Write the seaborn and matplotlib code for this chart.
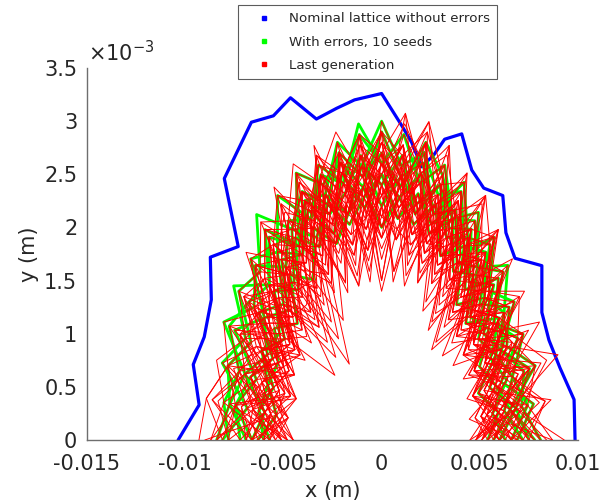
import numpy as np
import pandas as pd
import matplotlib
matplotlib.use("Agg")
import matplotlib.pyplot as plt
import seaborn as sns
from matplotlib.lines import Line2D

# ---------------- data (mm) ----------------
nominal_x = [-10.36, -9.29, -9.59, -9.03, -8.67, -8.72, -7.30, -8.01, -6.63, -5.51,
             -4.64, -3.32, -2.30, -1.38, 0.00, 1.02, 1.53, 2.04, 2.65, 3.21,
             4.08, 4.59, 5.20, 6.17, 6.33, 6.79, 8.16, 8.16, 8.52, 9.08, 9.80, 9.85]
nominal_y = [0.00, 0.33, 0.71, 0.97, 1.32, 1.72, 1.82, 2.46, 2.99, 3.05,
             3.22, 3.02, 3.12, 3.20, 3.26, 2.96, 2.80, 2.57, 2.68, 2.83,
             2.88, 2.54, 2.37, 2.30, 1.95, 1.71, 1.64, 1.20, 0.94, 0.68, 0.38, 0.00]

# scan directions (degrees, normalised phase space) and horizontal stretch of the scan
scan_angles_deg = [0, 7.5, 15, 22.5, 30, 37.5, 45, 52.5, 60, 67.5, 75, 82.5, 90,
                   97.5, 105, 112.5, 120, 127.5, 135, 142.5, 150, 157.5, 165, 172.5, 180]
X_STRETCH = 3.0

# aperture radii along each direction, with errors (10 seeds)
seed_radii = [
    [2.3, 2.6, 2.1, 2.5, 2.2, 2.6, 2.3, 2.7, 2.4, 2.8, 2.5, 2.9, 2.6, 3.0, 2.5, 2.8, 2.4, 2.9, 2.5, 2.8, 2.3, 2.7, 2.2, 2.5, 2.4],
    [2.6, 2.2, 2.7, 2.3, 2.5, 2.1, 2.6, 2.4, 2.8, 2.3, 2.7, 2.5, 2.9, 2.4, 2.7, 2.6, 2.9, 2.3, 2.8, 2.4, 2.9, 2.5, 2.8, 2.3, 2.7],
    [2.0, 2.3, 1.9, 2.2, 2.0, 2.4, 2.1, 2.5, 2.3, 2.6, 2.2, 2.7, 2.4, 2.6, 2.2, 2.5, 2.1, 2.4, 2.0, 2.3, 1.9, 2.2, 2.0, 2.1, 1.9],
    [2.4, 2.1, 2.3, 2.6, 2.2, 2.5, 2.0, 2.4, 2.2, 2.6, 2.3, 2.5, 2.2, 2.7, 2.4, 2.3, 2.6, 2.2, 2.5, 2.1, 2.4, 2.0, 2.3, 2.5, 2.2],
    [1.9, 2.2, 2.0, 1.8, 2.1, 1.9, 2.3, 2.1, 2.5, 2.2, 2.4, 2.1, 2.5, 2.3, 2.1, 2.4, 2.2, 2.5, 2.1, 2.3, 2.0, 2.2, 1.9, 2.1, 2.0],
    [2.5, 2.3, 2.6, 2.2, 2.4, 2.7, 2.3, 2.6, 2.4, 2.7, 2.9, 2.4, 2.7, 2.5, 2.8, 2.4, 2.7, 2.5, 3.0, 2.6, 2.8, 2.4, 2.7, 2.6, 2.8],
    [2.1, 1.9, 2.2, 2.0, 2.3, 1.8, 2.2, 2.0, 2.4, 2.1, 2.6, 2.3, 2.5, 2.2, 2.6, 2.1, 2.5, 2.2, 2.4, 2.0, 2.3, 2.1, 2.4, 2.0, 2.2],
    [2.2, 2.5, 2.3, 2.1, 2.4, 2.2, 2.5, 2.3, 2.7, 2.5, 2.8, 2.4, 2.6, 2.9, 2.5, 2.7, 2.4, 2.6, 2.3, 2.7, 2.5, 2.9, 2.4, 2.6, 2.3],
    [1.8, 2.0, 1.7, 2.1, 1.9, 2.2, 1.8, 2.3, 2.0, 2.4, 2.1, 2.3, 2.0, 2.4, 2.2, 2.0, 2.3, 1.9, 2.2, 1.8, 2.1, 1.9, 2.0, 1.8, 2.1],
    [2.7, 2.4, 2.5, 2.2, 2.6, 2.3, 2.7, 2.2, 2.5, 2.3, 2.8, 2.6, 3.0, 2.6, 2.9, 2.5, 2.6, 2.3, 2.7, 2.4, 2.6, 2.8, 2.5, 2.7, 2.6],
]

# aperture radii of the last generation
last_gen_radii = [
    [1.9, 2.2, 1.7, 2.1, 1.8, 2.3, 2.0, 2.5, 2.2, 2.7, 2.3, 2.8, 2.4, 2.6, 2.2, 2.7, 2.1, 2.5, 2.0, 2.4, 1.9, 2.2, 1.7, 2.0, 1.8],
    [2.1, 1.7, 2.0, 1.6, 2.2, 1.9, 2.4, 2.1, 2.6, 2.0, 2.5, 2.2, 2.8, 2.3, 2.6, 2.1, 2.7, 2.2, 2.4, 1.9, 2.3, 1.8, 2.1, 1.6, 2.0],
    [2.4, 2.0, 2.6, 1.9, 2.3, 2.1, 2.5, 1.9, 2.4, 2.2, 2.9, 2.1, 2.6, 2.0, 2.5, 2.3, 2.8, 2.0, 2.6, 2.2, 2.5, 1.9, 2.3, 2.0, 2.2],
    [1.7, 2.0, 1.8, 2.2, 1.6, 2.0, 1.8, 2.3, 1.9, 2.4, 2.0, 2.5, 2.1, 2.7, 2.0, 2.4, 1.8, 2.2, 1.7, 2.1, 1.6, 1.9, 1.7, 1.8, 1.6],
    [2.6, 2.2, 3.1, 2.3, 2.4, 2.0, 2.5, 2.1, 2.7, 2.4, 3.1, 2.5, 2.8, 2.3, 2.9, 2.4, 2.7, 2.2, 2.8, 2.5, 2.6, 2.1, 2.4, 2.2, 2.3],
    [1.8, 2.1, 1.6, 1.9, 2.2, 1.7, 2.0, 1.4, 2.3, 1.9, 2.6, 2.0, 2.4, 1.8, 2.3, 1.6, 2.2, 1.9, 1.1, 2.1, 1.8, 2.2, 1.9, 2.1, 1.7],
    [2.2, 1.9, 2.4, 2.0, 2.6, 2.2, 2.8, 2.3, 2.5, 2.1, 2.7, 3.0, 2.5, 2.2, 2.6, 2.9, 2.3, 2.6, 2.2, 2.5, 2.1, 2.4, 2.0, 2.3, 2.1],
    [1.6, 1.9, 2.1, 1.7, 2.0, 1.8, 2.2, 1.6, 2.1, 1.8, 2.3, 1.9, 2.2, 1.7, 2.5, 2.0, 2.3, 1.8, 2.1, 1.6, 1.9, 2.2, 1.8, 1.7, 1.9],
    [2.3, 2.6, 2.2, 2.5, 2.1, 2.6, 2.4, 2.8, 2.5, 2.9, 2.6, 3.1, 2.7, 2.9, 2.6, 2.8, 2.5, 2.9, 2.6, 2.8, 2.4, 2.9, 2.7, 3.0, 3.1],
    [2.0, 1.6, 1.9, 2.3, 1.8, 2.1, 1.7, 2.4, 2.0, 2.2, 1.9, 2.6, 2.1, 2.4, 1.8, 2.5, 2.0, 2.3, 1.5, 2.2, 1.9, 1.6, 2.0, 1.8, 1.9],
    [1.8, 2.0, 1.7, 2.1, 1.9, 1.5, 2.2, 2.0, 2.4, 2.1, 2.5, 2.2, 2.7, 2.4, 2.2, 2.6, 2.3, 2.1, 2.4, 1.0, 2.0, 1.7, 1.9, 2.2, 1.8],
    [2.5, 2.1, 2.3, 2.0, 2.5, 2.2, 2.6, 2.3, 2.9, 2.4, 2.6, 2.2, 2.8, 2.5, 2.7, 2.3, 2.9, 2.4, 2.6, 2.3, 2.7, 2.2, 2.5, 2.0, 2.4],
    [1.7, 2.2, 1.9, 1.7, 2.1, 1.8, 2.4, 2.2, 2.0, 2.6, 2.2, 2.4, 2.0, 2.6, 2.3, 2.1, 2.5, 2.2, 2.0, 2.3, 1.8, 2.0, 2.3, 1.9, 1.6],
    [2.8, 2.3, 2.6, 2.1, 2.4, 1.9, 2.2, 2.6, 2.3, 2.8, 2.5, 2.7, 2.3, 2.9, 2.6, 2.4, 2.8, 2.5, 2.7, 2.3, 2.5, 2.0, 2.6, 2.3, 2.8],
    [1.9, 1.7, 2.0, 1.8, 1.6, 2.1, 1.3, 2.2, 1.9, 2.5, 2.1, 2.3, 1.9, 2.4, 2.1, 2.6, 1.9, 2.3, 2.0, 2.4, 1.7, 2.1, 1.8, 2.0, 1.7],
    [2.2, 2.5, 2.0, 2.3, 1.9, 2.4, 2.1, 2.7, 2.4, 2.6, 2.3, 2.8, 2.5, 2.7, 2.4, 2.7, 2.2, 2.6, 2.4, 2.7, 2.2, 2.6, 2.4, 2.8, 2.6],
    [2.0, 1.8, 2.2, 1.7, 2.3, 2.0, 2.5, 2.2, 2.7, 2.3, 2.6, 2.1, 2.5, 2.2, 2.8, 2.1, 2.4, 2.0, 2.3, 1.8, 2.2, 1.7, 2.1, 1.9, 2.2],
    [1.6, 2.0, 1.8, 2.3, 2.0, 2.2, 1.8, 2.0, 2.3, 2.1, 2.4, 1.9, 2.3, 2.1, 2.0, 2.5, 2.2, 1.2, 2.1, 2.3, 1.9, 2.1, 1.8, 2.0, 1.5],
    [2.4, 2.8, 2.3, 2.6, 2.2, 2.5, 2.2, 2.4, 2.1, 2.6, 2.9, 2.4, 2.7, 2.3, 2.5, 2.2, 2.6, 2.3, 2.5, 2.1, 2.4, 2.6, 2.2, 2.5, 2.7],
    [1.8, 1.6, 1.9, 2.1, 1.8, 2.0, 2.2, 1.9, 2.1, 2.0, 2.3, 2.1, 2.4, 2.0, 2.2, 2.4, 2.1, 2.3, 1.9, 2.2, 2.0, 1.8, 2.1, 1.9, 2.0],
    [2.1, 2.4, 2.0, 2.2, 1.7, 2.2, 2.4, 2.1, 2.5, 2.3, 2.7, 2.5, 2.9, 2.6, 2.4, 2.7, 2.3, 2.5, 2.1, 2.4, 2.2, 2.0, 2.3, 2.1, 2.3],
    [1.5, 1.8, 1.6, 2.0, 1.7, 1.9, 1.6, 2.1, 1.8, 2.2, 2.0, 2.3, 1.9, 2.2, 1.8, 2.1, 1.7, 2.0, 1.8, 1.9, 1.6, 1.8, 1.5, 1.7, 1.5],
    [2.7, 2.4, 2.9, 2.5, 2.7, 2.3, 2.6, 2.4, 2.8, 2.6, 3.0, 2.7, 2.9, 2.5, 2.8, 2.6, 3.0, 2.6, 2.9, 2.6, 2.8, 2.5, 2.9, 2.7, 2.9],
    [2.0, 2.3, 1.9, 2.2, 2.0, 1.7, 2.1, 2.3, 2.6, 2.2, 2.5, 2.3, 2.6, 2.1, 2.6, 2.3, 2.5, 2.1, 2.4, 2.0, 1.8, 2.2, 2.0, 1.8, 2.1],
    [1.9, 2.1, 2.4, 1.9, 2.1, 2.3, 1.9, 2.5, 2.2, 2.4, 2.0, 2.7, 2.2, 2.5, 2.3, 2.6, 2.0, 2.4, 2.2, 2.0, 2.3, 1.9, 2.1, 2.2, 1.9],
    [2.3, 1.9, 2.1, 2.4, 2.2, 2.5, 2.0, 2.3, 2.6, 2.2, 2.9, 2.4, 2.6, 2.3, 2.7, 2.2, 2.6, 2.4, 2.2, 2.6, 2.3, 2.5, 2.1, 2.4, 2.2],
    [1.7, 1.9, 1.6, 2.0, 1.8, 2.0, 1.7, 2.2, 1.9, 2.1, 1.8, 2.4, 2.0, 2.3, 1.9, 2.2, 1.7, 0.9, 2.0, 1.8, 2.1, 1.7, 1.9, 1.6, 1.8],
    [2.5, 2.2, 2.7, 2.4, 2.2, 2.6, 2.3, 2.1, 2.5, 2.3, 2.7, 2.4, 2.6, 2.8, 2.5, 2.9, 2.4, 2.7, 2.5, 2.3, 2.6, 2.4, 2.7, 2.5, 2.6],
    [2.0, 1.7, 2.1, 1.9, 2.2, 1.8, 2.1, 1.9, 2.4, 2.0, 2.2, 2.5, 2.3, 2.0, 2.4, 2.2, 2.6, 2.1, 2.3, 2.1, 1.8, 2.0, 2.2, 1.9, 2.0],
    [2.9, 2.5, 2.7, 2.3, 2.5, 2.2, 2.7, 2.5, 2.3, 2.7, 3.1, 2.6, 2.8, 2.4, 2.6, 2.3, 2.7, 2.5, 2.8, 2.5, 2.7, 2.3, 2.5, 2.6, 2.8],
    [1.6, 1.8, 2.0, 1.7, 1.9, 1.6, 2.0, 1.8, 2.2, 1.9, 2.3, 2.0, 2.1, 1.8, 2.3, 2.0, 2.2, 1.9, 2.0, 1.7, 2.0, 1.8, 1.6, 1.9, 1.7],
    [2.2, 2.0, 2.5, 2.1, 2.3, 2.0, 2.4, 2.2, 2.0, 2.5, 2.3, 2.6, 2.3, 2.8, 2.4, 2.2, 2.5, 2.3, 2.6, 2.2, 2.4, 2.1, 2.3, 2.0, 2.2],
    [2.9, 1.8, 2.6, 1.5, 2.4, 1.9, 2.8, 1.7, 2.5, 1.6, 2.9, 1.9, 2.7, 1.5, 2.8, 2.0, 2.6, 1.4, 2.3, 1.7, 2.5, 1.6, 2.7, 1.8, 3.0],
    [1.5, 2.4, 1.7, 2.6, 1.9, 2.7, 1.6, 2.5, 2.0, 3.0, 1.8, 2.6, 1.5, 2.9, 1.9, 2.7, 1.6, 2.8, 1.9, 2.5, 1.5, 2.3, 1.6, 2.6, 1.6],
    [2.2, 2.9, 1.8, 2.3, 1.4, 2.2, 2.7, 1.8, 2.9, 2.1, 1.6, 2.6, 3.0, 1.8, 2.4, 1.5, 2.6, 2.9, 1.7, 2.8, 2.0, 2.7, 1.5, 2.5, 2.9],
    [3.1, 2.3, 2.0, 2.7, 1.6, 2.4, 1.9, 2.9, 1.7, 2.3, 2.8, 1.6, 2.4, 2.8, 1.7, 2.9, 2.0, 2.3, 2.9, 1.5, 2.6, 1.8, 2.4, 2.9, 2.2],
    [1.6, 2.0, 2.7, 1.7, 2.2, 1.3, 2.3, 2.6, 1.5, 2.8, 2.2, 3.1, 1.9, 2.5, 2.8, 1.6, 2.4, 1.9, 2.6, 2.2, 1.7, 2.8, 2.0, 1.7, 2.1],
    [2.4, 1.7, 2.2, 2.9, 2.0, 2.6, 1.5, 2.2, 2.7, 1.9, 2.4, 1.5, 2.9, 2.1, 1.6, 2.6, 2.9, 1.8, 2.2, 2.7, 1.6, 2.3, 2.8, 2.0, 2.6],
    [1.8, 2.5, 1.6, 2.2, 2.6, 1.9, 2.5, 1.3, 2.6, 2.0, 3.0, 2.3, 1.7, 2.7, 2.2, 1.9, 2.7, 2.2, 1.6, 2.4, 1.9, 2.5, 1.7, 2.3, 1.7],
    [2.0, 2.7, 2.3, 1.6, 2.5, 2.1, 1.7, 2.5, 2.2, 1.6, 2.6, 2.9, 2.2, 1.6, 2.9, 2.3, 1.7, 2.6, 2.3, 1.9, 2.7, 1.9, 2.5, 2.2, 2.8],
    [2.6, 2.0, 1.6, 2.4, 1.9, 2.8, 2.1, 2.4, 1.8, 2.7, 2.0, 2.5, 1.5, 2.6, 2.2, 3.0, 1.8, 2.4, 2.8, 1.9, 2.4, 1.6, 2.2, 2.7, 1.9],
    [1.9, 2.3, 2.8, 2.0, 2.7, 1.6, 2.2, 2.9, 2.0, 2.5, 1.7, 2.8, 2.4, 1.9, 2.7, 2.1, 2.4, 1.6, 2.7, 2.3, 2.0, 2.6, 1.9, 2.4, 2.3],
    [2.3, 1.5, 2.1, 1.8, 2.3, 2.0, 1.2, 2.1, 1.7, 2.4, 1.5, 2.2, 1.8, 2.3, 1.5, 2.1, 1.3, 1.9, 1.5, 2.0, 1.7, 1.9, 1.5, 1.8, 1.5],
    [2.7, 2.2, 2.5, 1.9, 2.8, 2.3, 2.6, 2.9, 2.4, 3.0, 2.6, 2.2, 2.9, 2.5, 3.0, 2.7, 2.3, 2.8, 2.4, 2.9, 2.2, 2.8, 2.5, 2.9, 2.4],
    [1.7, 2.1, 1.5, 2.0, 1.6, 2.4, 1.9, 1.5, 2.3, 1.8, 2.1, 1.6, 2.2, 1.9, 1.5, 2.3, 1.8, 2.0, 1.3, 2.1, 1.7, 2.0, 1.6, 2.2, 1.6],
    [2.2, 1.8, 2.6, 2.2, 1.8, 2.3, 2.8, 2.0, 2.4, 1.7, 2.3, 2.7, 2.0, 2.9, 2.3, 1.8, 2.9, 2.2, 2.5, 2.0, 2.8, 2.2, 1.8, 2.5, 2.0],
    [1.6, 2.3, 1.9, 2.5, 2.1, 1.6, 2.4, 1.9, 1.4, 2.3, 1.9, 2.0, 1.4, 2.2, 1.9, 2.5, 2.0, 1.7, 2.3, 1.8, 2.2, 1.9, 2.4, 1.6, 2.2],
    [2.5, 2.8, 2.1, 2.6, 2.3, 2.0, 2.7, 2.3, 2.8, 2.4, 2.1, 2.8, 2.6, 2.2, 2.5, 2.8, 2.3, 3.0, 2.2, 2.7, 2.5, 2.2, 2.7, 3.0, 2.7],
]

x_ticks = [-0.015, -0.01, -0.005, 0, 0.005, 0.01]
x_tick_labels = ["-0.015", "-0.01", "-0.005", "0", "0.005", "0.01"]
y_ticks = [0, 0.5e-3, 1e-3, 1.5e-3, 2e-3, 2.5e-3, 3e-3, 3.5e-3]
y_tick_labels = ["0", "0.5", "1", "1.5", "2", "2.5", "3", "3.5"]
legend_labels = ["Nominal lattice without errors", "With errors, 10 seeds", "Last generation"]


def scan_frame(radii_list):
    ang = np.deg2rad(np.asarray(scan_angles_deg))
    rows = []
    for cid, r in enumerate(radii_list):
        r = np.asarray(r, dtype=float)
        xs = X_STRETCH * r * np.cos(ang) * 1e-3
        ys = r * np.sin(ang) * 1e-3
        for k, (xx, yy) in enumerate(zip(xs, ys)):
            rows.append({"curve": cid, "k": k, "x": xx, "y": yy})
    return pd.DataFrame(rows)


nominal_df = pd.DataFrame({"curve": 0, "x": np.asarray(nominal_x) * 1e-3,
                           "y": np.asarray(nominal_y) * 1e-3})
seed_df = scan_frame(seed_radii)
last_df = scan_frame(last_gen_radii)

# ---------------- plotting ----------------
sns.set_theme(style="white")
plt.rcParams["font.family"] = ["DejaVu Sans"]

fig = plt.figure(figsize=(6.05, 5.03), dpi=100)
ax = fig.add_axes([87 / 605, 1 - 440 / 503, (578 - 87) / 605, (440 - 68) / 503])

sns.lineplot(data=nominal_df, x="x", y="y", units="curve", estimator=None, sort=False,
             color="#0000ff", linewidth=2.3, ax=ax, zorder=2)
sns.lineplot(data=seed_df, x="x", y="y", units="curve", estimator=None, sort=False,
             color="#00ff00", linewidth=2.0, ax=ax, zorder=3)
sns.lineplot(data=last_df, x="x", y="y", units="curve", estimator=None, sort=False,
             color="#ff0000", linewidth=0.7, ax=ax, zorder=4)

ax.set_xlim(-0.015, 0.01)
ax.set_ylim(0, 3.5e-3)
ax.set_xticks(x_ticks)
ax.set_xticklabels(x_tick_labels)
ax.set_yticks(y_ticks)
ax.set_yticklabels(y_tick_labels)

txt_col = "#262626"
spine_col = "#6e6e6e"
ax.tick_params(axis="both", direction="in", length=4, width=0.8, colors=spine_col,
               labelsize=15, labelcolor=txt_col)
ax.tick_params(axis="x", pad=10)
ax.tick_params(axis="y", pad=7)
for s in ["top", "right"]:
    ax.spines[s].set_visible(False)
for s in ["left", "bottom"]:
    ax.spines[s].set_color(spine_col)
    ax.spines[s].set_linewidth(1.0)

ax.set_xlabel("x (m)", fontsize=15, color=txt_col, labelpad=5)
ax.set_ylabel("y (m)", fontsize=15, color=txt_col, labelpad=4)

fig.text(88 / 605, 1 - 61 / 503, r"$\mathregular{\times10^{-3}}$", fontsize=15,
         color=txt_col, ha="left", va="baseline")

handles = [Line2D([], [], marker="s", linestyle="none", color=c, markersize=3.5)
           for c in ["#0000ff", "#00ff00", "#ff0000"]]
leg = fig.legend(handles, legend_labels, loc="upper left", bbox_to_anchor=(238 / 605, 1 - 5 / 503),
                 fontsize=9.6, frameon=True, fancybox=False, edgecolor="#333333",
                 handlelength=2.8, handletextpad=0.45, borderpad=0.55, labelspacing=0.78,
                 borderaxespad=0)
leg.get_frame().set_linewidth(0.8)
for t in leg.get_texts():
    t.set_color(txt_col)

fig.savefig("out.png", dpi=100)
